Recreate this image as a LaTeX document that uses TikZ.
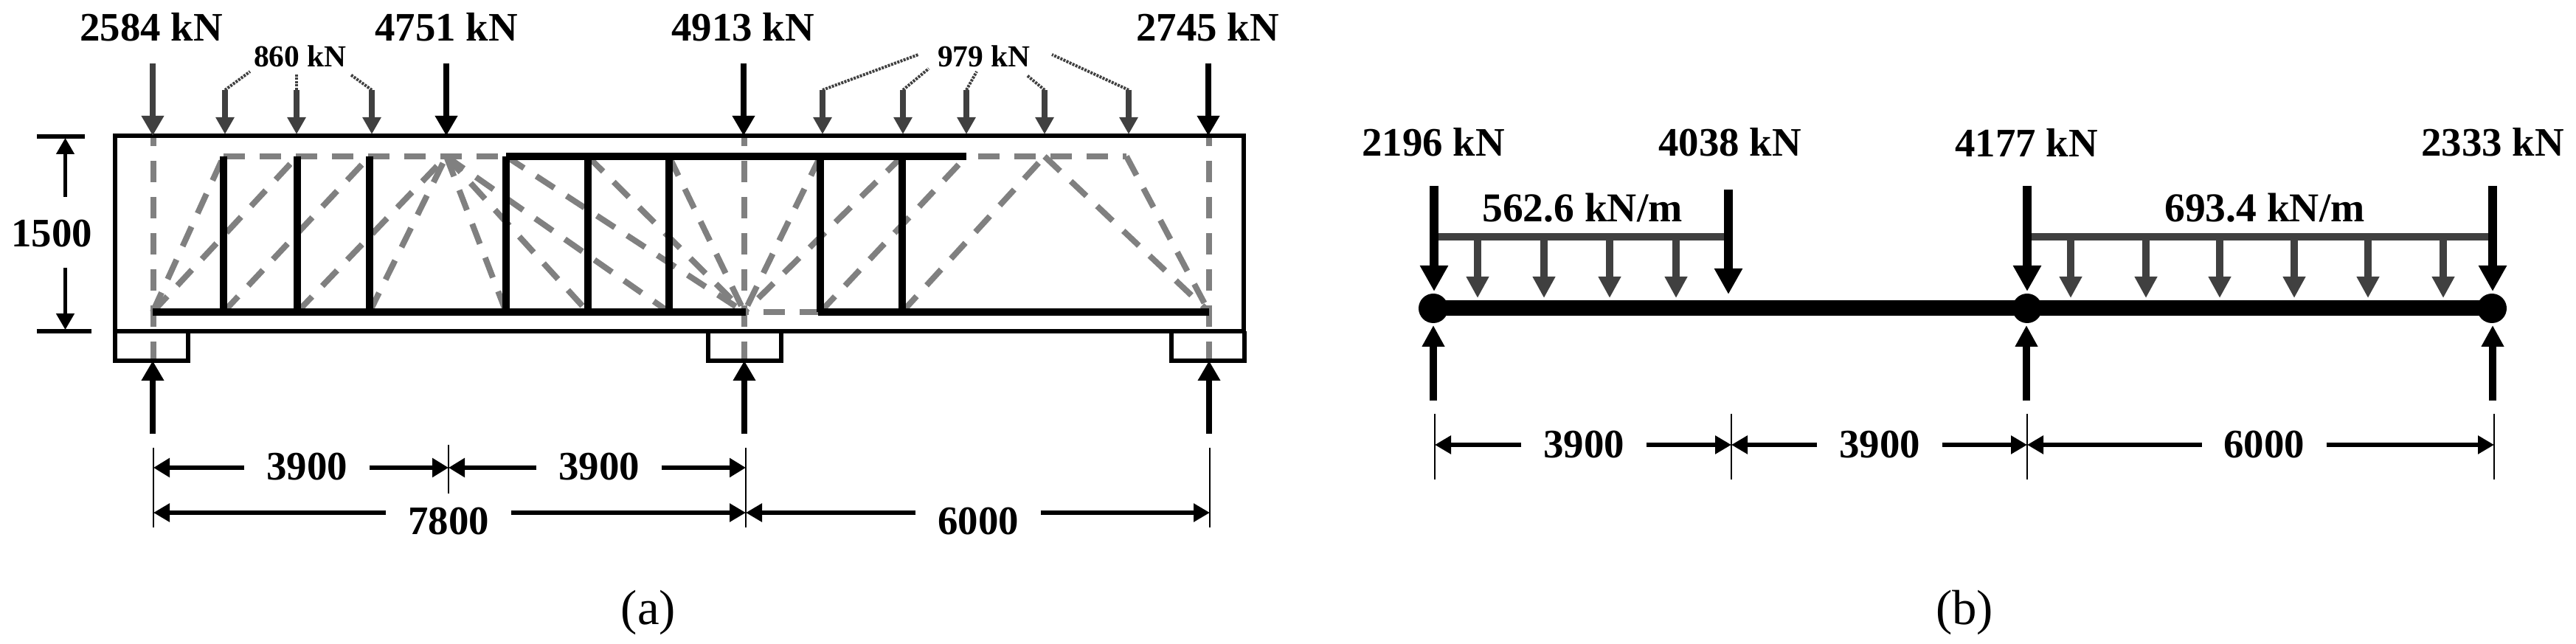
\documentclass[tikz,border=0pt]{standalone}
\usepackage{fontspec}
\setmainfont{Liberation Serif}
\usetikzlibrary{arrows.meta}
\definecolor{loadgray}{HTML}{404040}
\definecolor{strutgray}{HTML}{808080}
\tikzset{
	every node/.style={inner sep=0pt},
	biglabel/.style={font=\bfseries\fontsize{15.6}{17}\selectfont},
	smalllabel/.style={font=\bfseries\fontsize{11.8}{13}\selectfont},
	udllabel/.style={font=\bfseries\fontsize{15.8}{18}\selectfont},
	sublabel/.style={font=\fontsize{19}{22}\selectfont},
	outline/.style={line width=0.055cm},
	strut/.style={draw=strutgray,line width=0.08cm,dash pattern=on 0.29cm off 0.20cm},
	tie/.style={line width=0.10cm},
	stirrup/.style={line width=0.095cm},
	bigload/.style={line width=0.08cm,-{Triangle[width=0.29cm,length=0.27cm]}},
	smallload/.style={draw=loadgray,fill=loadgray,line width=0.08cm,-{Triangle[width=0.24cm,length=0.23cm]}},
	leader/.style={draw=loadgray,line width=0.04cm,dash pattern=on 0.03cm off 0.015cm},
	height/.style={line width=0.046cm,-{Triangle[width=0.24cm,length=0.22cm]}},
	extline/.style={line width=0.028cm},
	dimone/.style={line width=0.055cm,-{Triangle[width=0.25cm,length=0.22cm]}},
	dimtwo/.style={line width=0.062cm,-{Triangle[width=0.24cm,length=0.22cm]}},
	hinge/.style={circle,fill=black,minimum size=0.40cm},
	deck/.style={line width=0.21cm},
	udlbar/.style={draw=loadgray,line width=0.10cm},
	pointload/.style={line width=0.115cm,-{Triangle[width=0.36cm,length=0.35cm]}},
	udlload/.style={draw=loadgray,fill=loadgray,line width=0.105cm,-{Triangle[width=0.29cm,length=0.29cm]}},
	support/.style={line width=0.10cm,-{Triangle[width=0.29cm,length=0.29cm]}}
}
\begin{document}
\begin{tikzpicture}[y=-1cm]
	\useasboundingbox (0,0) rectangle (34.92,8.73);
	% (a) struts
	\foreach \n/\x in {1/3.03,2/4.03,3/5.01,4/6.05,5/6.86,6/7.97,7/9.07,8/11.12,9/12.23,10/13.10,11/14.16,12/15.27}
		\coordinate (t\n) at (\x,2.12);
	\foreach \n/\x in {0/2.07,1/3.03,2/4.03,3/5.01,4/6.86,5/7.97,6/9.07,7/10.09,8/11.12,9/12.23,10/16.39}
		\coordinate (b\n) at (\x,4.23);
	\foreach \x in {2.08,10.09,16.39}
		\draw[strut,dash phase=0.16cm] (\x,1.85) -- (\x,4.89);
	\foreach \p/\q in {b0/t1,b0/t2,b1/t3,b2/t4,b3/t4,t4/b4,t4/b5,t4/b6,t5/b7,t6/b7,t7/b7,t8/b7,t9/b7,b8/t10,b9/t11,t11/b10,t12/b10}
		\draw[strut] (\p) -- (\q);
	\draw[strut] (t1) -- (t5);
	\draw[strut,dash phase=0.33cm] (t10) -- (t12);
	\draw[strut,dash phase=0.23cm] (b7) -- (b8);
	% (a) steel
	\draw[tie] (t5) -- (t10);
	\draw[tie] (b0) -- (10.11,4.23);
	\draw[tie] (11.09,4.23) -- (b10);
	\foreach \n/\m in {1/1,2/2,3/3,5/4,6/5,7/6,8/8,9/9}
		\draw[stirrup] (t\n) -- (b\m);
	% (a) beam and supports
	\draw[outline] (1.56,1.84) rectangle (16.86,4.49);
	\foreach \x in {1.56,9.60,15.88}
		\draw[outline] (\x,4.49) -- (\x,4.89) -- ++(0.99,0) -- ++(0,-0.40);
	% (a) loads
	\draw[bigload,draw=loadgray,fill=loadgray] (2.07,0.86) -- (2.07,1.84);
	\foreach \x in {6.05,10.08,16.38}
		\draw[bigload] (\x,0.86) -- (\x,1.84);
	\foreach \n/\x in {1/3.05,2/4.02,3/5.04,4/11.15,5/12.24,6/13.10,7/14.16,8/15.30}{
		\coordinate (s\n) at (\x,1.22);
		\draw[smallload] (s\n) -- (\x,1.82);
	}
	\foreach \n/\x/\y in {1/3.39/0.97,2/4.02/1.01,3/4.75/1.01,4/12.45/0.74,5/12.59/0.93,6/13.24/0.97,7/13.92/1.02,8/14.26/0.74}
		\draw[leader] (s\n) -- (\x,\y);
	\foreach \x in {2.07,10.09,16.39}
		\draw[bigload] (\x,5.88) -- (\x,4.89);
	% (a) labels
	\node[biglabel] (pa) at (2.05,0.37) {2584 kN};
	\node[biglabel] (pb) at (6.05,0.37) {4751 kN};
	\node[biglabel] (pc) at (10.07,0.37) {4913 kN};
	\node[biglabel] (pd) at (16.37,0.37) {2745 kN};
	\node[smalllabel] (qa) at (4.07,0.76) {860 kN};
	\node[smalllabel] (qb) at (13.34,0.76) {979 kN};
	\node[biglabel] (hgt) at (0.70,3.17) {1500};
	\node[sublabel] (suba) at (8.79,8.30) {(a)};
	% (a) depth
	\draw[outline] (0.50,1.85) -- (1.15,1.85);
	\draw[outline] (0.50,4.49) -- (1.24,4.49);
	\draw[height] (0.885,2.67) -- (0.885,1.87);
	\draw[height] (0.885,3.63) -- (0.885,4.47);
	% (a) dimensions
	\foreach \x/\ya/\yb in {2.08/6.07/7.15,6.08/6.03/6.69,10.11/6.07/7.15,16.40/6.07/7.15}
		\draw[extline] (\x,\ya) -- (\x,\yb);
	\foreach \n/\txt/\xa/\xb/\xl/\yl/\yt/\sty in {
		da/3900/2.08/6.08/4.16/6.34/6.33/dimone,
		db/3900/6.08/10.11/8.12/6.34/6.33/dimone,
		dc/7800/2.08/10.11/6.08/6.95/7.07/dimtwo,
		dd/6000/10.11/16.40/13.26/6.95/7.07/dimtwo}{
		\node[biglabel,inner xsep=0.29cm] (\n) at (\xl,\yt) {\txt};
		\draw[\sty] (\n.west |- {{0,\yl}}) -- (\xa,\yl);
		\draw[\sty] (\n.east |- {{0,\yl}}) -- (\xb,\yl);
	}
	% (b) beam
	\node[hinge] (na) at (19.43,4.18) {};
	\node[hinge] (nb) at (27.48,4.18) {};
	\node[hinge] (nc) at (33.78,4.18) {};
	\draw[deck] (na.center) -- (nb.center);
	\draw[deck] (nb.center) -- (nc.center);
	% (b) distributed loads
	\draw[udlbar] (19.44,3.21) -- (23.43,3.21);
	\draw[udlbar] (27.48,3.21) -- (33.79,3.21);
	\foreach \x in {20.03,20.93,21.82,22.72,28.07,29.09,30.09,31.10,32.10,33.12}
		\draw[udlload] (\x,3.21) -- (\x,4.04);
	% (b) point loads
	\foreach \x in {19.44,27.48,33.79}
		\draw[pointload] (\x,2.52) -- (\x,3.95);
	\draw[pointload] (23.43,2.57) -- (23.43,3.99);
	\foreach \x in {19.43,27.47,33.79}
		\draw[support] (\x,5.43) -- (\x,4.41);
	% (b) labels
	\node[biglabel] (ra) at (19.43,1.93) {2196 kN};
	\node[biglabel] (rb) at (23.45,1.93) {4038 kN};
	\node[biglabel] (rc) at (27.47,1.93) {4177 kN};
	\node[biglabel] (rd) at (33.79,1.93) {2333 kN};
	\node[udllabel] (wa) at (21.45,2.82) {562.6 kN/m};
	\node[udllabel] (wb) at (30.70,2.82) {693.4 kN/m};
	\node[sublabel] (subb) at (26.63,8.30) {(b)};
	% (b) dimensions
	\foreach \x in {19.45,23.47,27.48,33.81}
		\draw[extline] (\x,5.61) -- (\x,6.50);
	\foreach \n/\txt/\xa/\xb/\xl in {
		ea/3900/19.45/23.47/21.47,
		eb/3900/23.47/27.48/25.48,
		ec/6000/27.48/33.81/30.69}{
		\node[biglabel,inner xsep=0.29cm] (\n) at (\xl,6.03) {\txt};
		\draw[dimtwo] (\n.west) -- (\xa,6.03);
		\draw[dimtwo] (\n.east) -- (\xb,6.03);
	}
\end{tikzpicture}
\end{document}
